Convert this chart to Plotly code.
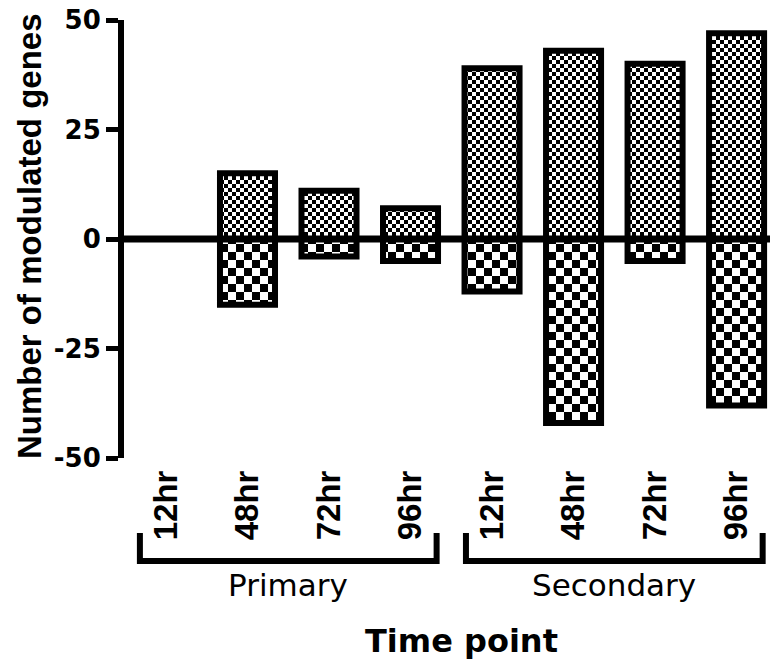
import plotly.graph_objects as go

# ---- data -------------------------------------------------------------
groups = ["Primary", "Secondary"]
time_points = ["12hr", "48hr", "72hr", "96hr", "12hr", "48hr", "72hr", "96hr"]
up_regulated = [0, 15, 11, 7, 39, 43, 40, 47]
down_regulated = [0, -15, -4, -5, -12, -42, -5, -38]
y_ticks = [-50, -25, 0, 25, 50]
y_tick_text = ["-50", "-25", "0", "25", "50"]

# ---- geometry / style ------------------------------------------------
W, H = 770, 665
M_L, M_R, M_T, M_B = 124, 0, 20, 207
PLOT_H = H - M_T - M_B
BAR_W = 0.675
BRACKET_PAD = 0.32
x_pos = list(range(len(time_points)))
n_per_group = len(time_points) // len(groups)


def paper_y(py):
    """Convert a pixel row of the page into paper y units."""
    return (H - M_B - py) / PLOT_H


def paper_x(px):
    return (px - M_L) / (W - M_L - M_R)


LABEL_FONT = dict(family="DejaVu Sans", size=26, color="black", weight="bold")
ROT_FONT = dict(family="Liberation Sans", size=33, color="black", weight="bold")

fig = go.Figure()
for vals, name in [(up_regulated, "Up"), (down_regulated, "Down")]:
    fig.add_trace(go.Bar(
        x=x_pos, y=vals, name=name, width=BAR_W,
        marker=dict(color="white", line=dict(color="black", width=6)),
        hoverinfo="skip",
    ))

shapes = [
    # thick baseline at zero, on top of the bars
    dict(type="line", xref="paper", yref="y", x0=0, x1=1, y0=0, y1=0,
         line=dict(color="black", width=7), layer="above"),
]
annotations = []
y_top, y_bot = paper_y(533), paper_y(561)
for gi, g in enumerate(groups):
    first = x_pos[gi * n_per_group]
    last = x_pos[(gi + 1) * n_per_group - 1]
    x0, x1 = first - BRACKET_PAD, last + BRACKET_PAD
    shapes.append(dict(
        type="path", xref="x", yref="paper",
        path=f"M{x0},{y_top} L{x0},{y_bot} L{x1},{y_bot} L{x1},{y_top}",
        line=dict(color="black", width=6), layer="above",
    ))
    annotations.append(dict(
        text=g, xref="x", yref="paper", x=(first + last) / 2, y=paper_y(585),
        xanchor="center", yanchor="middle", showarrow=False,
        font=dict(family="DejaVu Sans", size=31, color="black"),
    ))

annotations.append(dict(
    text="Time point", xref="paper", yref="paper", x=paper_x(461), y=paper_y(641),
    xanchor="center", yanchor="middle", showarrow=False,
    font=dict(family="DejaVu Sans", size=32, color="black", weight="bold"),
))
annotations.append(dict(
    text="Number of modulated genes", xref="paper", yref="paper",
    x=paper_x(29), y=paper_y(236), textangle=-90,
    xanchor="center", yanchor="middle", showarrow=False,
    font=dict(family="Liberation Sans", size=33, color="black", weight="bold"),
))

fig.update_layout(
    width=W, height=H,
    margin=dict(l=M_L, r=M_R, t=M_T, b=M_B, pad=0),
    paper_bgcolor="white", plot_bgcolor="white",
    barmode="overlay", showlegend=False,
    shapes=shapes, annotations=annotations,
    xaxis=dict(
        range=[-0.515, 7.41], tickmode="array", tickvals=x_pos, ticktext=time_points,
        tickangle=-90, tickfont=ROT_FONT, showline=False, showgrid=False,
        zeroline=False, ticks="", ticklabelstandoff=5, fixedrange=True,
    ),
    yaxis=dict(
        range=[-50, 50], tickmode="array", tickvals=y_ticks, ticktext=y_tick_text,
        tickfont=LABEL_FONT, showline=True, linecolor="black", linewidth=6,
        ticks="outside", ticklen=12, tickwidth=5, tickcolor="black",
        showgrid=False, zeroline=False, fixedrange=True,
    ),
)

# Checkerboard fills for the bars: fine squares for up, coarse for down.
checker_js = """
(function(){
  var gd = document.getElementById('{plot_id}');
  var NS = 'http://www.w3.org/2000/svg';
  function addPattern(defs, id, cell){
    if (defs.querySelector('#' + id)) return;
    var p = document.createElementNS(NS, 'pattern');
    p.setAttribute('id', id);
    p.setAttribute('patternUnits', 'userSpaceOnUse');
    p.setAttribute('width', 2 * cell);
    p.setAttribute('height', 2 * cell);
    [[0, 0, 2 * cell, 2 * cell, '#ffffff'],
     [0, 0, cell, cell, '#000000'],
     [cell, cell, cell, cell, '#000000']].forEach(function(r){
      var e = document.createElementNS(NS, 'rect');
      e.setAttribute('x', r[0]); e.setAttribute('y', r[1]);
      e.setAttribute('width', r[2]); e.setAttribute('height', r[3]);
      e.setAttribute('fill', r[4]);
      e.setAttribute('shape-rendering', 'crispEdges');
      p.appendChild(e);
    });
    defs.appendChild(p);
  }
  function apply(){
    var svg = gd.querySelector('svg.main-svg');
    if (!svg) return;
    var defs = svg.querySelector('defs');
    addPattern(defs, 'checkFine', 4);
    addPattern(defs, 'checkCoarse', 8);
    var ids = ['checkFine', 'checkCoarse'];
    gd.querySelectorAll('.barlayer .trace').forEach(function(t, i){
      t.querySelectorAll('path').forEach(function(p){
        p.style.fill = 'url(#' + ids[i % 2] + ')';
        p.style.fillOpacity = 1;
      });
    });
  }
  apply();
  if (gd.on) gd.on('plotly_afterplot', apply);
})();
"""

fig.write_html("out.html", post_script=checker_js)
